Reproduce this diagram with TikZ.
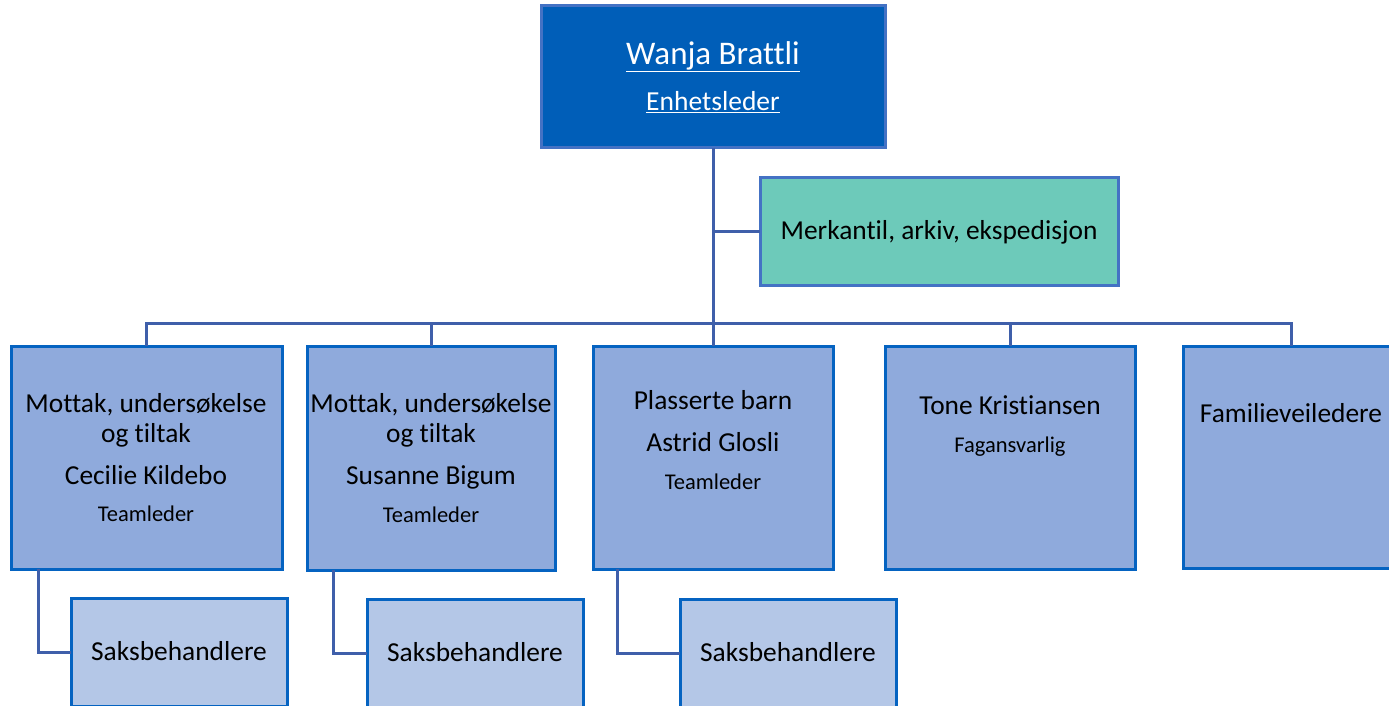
\documentclass[tikz,border=0pt]{standalone}
\usepackage{fontspec}
\setmainfont{Carlito}[Ligatures=NoCommon]
\usetikzlibrary{calc}
\definecolor{topfill}{RGB}{0,94,184}
\definecolor{topedge}{RGB}{68,114,196}
\definecolor{greenfill}{RGB}{109,202,186}
\definecolor{midfill}{RGB}{143,170,220}
\definecolor{boxedge}{RGB}{5,99,193}
\definecolor{saksfill}{RGB}{180,199,231}
\definecolor{connline}{RGB}{63,95,170}
\tikzset{
  every node/.style={inner sep=0pt, outer sep=0pt},
  boxbase/.style={rectangle, anchor=north west, line width=3pt},
  topbox/.style={boxbase, fill=topfill, draw=topedge},
  greenbox/.style={boxbase, fill=greenfill, draw=topedge},
  midbox/.style={boxbase, fill=midfill, draw=boxedge},
  saksbox/.style={boxbase, fill=saksfill, draw=boxedge},
  conn/.style={draw=connline, line width=3pt},
  big/.style={anchor=mid, font=\fontsize{27.4}{32}\selectfont},
  small/.style={anchor=mid, font=\fontsize{22.5}{26}\selectfont},
  toptxt/.style={anchor=mid, text=white, font=\fontsize{33}{38}\selectfont},
  topsub/.style={anchor=mid, text=white, font=\fontsize{27.5}{32}\selectfont},
}
\begin{document}
\begin{tikzpicture}[x=1pt,y=-1pt]
\useasboundingbox (0,0) rectangle (1389,706);
% boxes
\node[topbox, minimum width=344pt, minimum height=142pt] (top) at (541,6) {};
\node[greenbox, minimum width=358pt, minimum height=108pt] (grn) at (760,177) {};
\node[midbox, minimum width=271pt, minimum height=223pt] (b1) at (11,346) {};
\node[midbox, minimum width=248pt, minimum height=224pt] (b2) at (307,346) {};
\node[midbox, minimum width=240pt, minimum height=223pt] (b3) at (593,346) {};
\node[midbox, minimum width=250pt, minimum height=223pt] (b4) at (885,346) {};
\node[midbox, minimum width=216pt, minimum height=222pt] (b5) at (1183,346) {};
\node[saksbox, minimum width=216pt, minimum height=108pt] (s1) at (71,598) {};
\node[saksbox, minimum width=216pt, minimum height=108pt] (s2) at (367,599) {};
\node[saksbox, minimum width=216pt, minimum height=108pt] (s3) at (680,599) {};
% connectors
\coordinate (bus) at (0,323);
\draw[conn] (top.south) -- (b3.north);
\draw[conn] (grn.west -| top.south) -- (grn.west);
\draw[conn] (b1.north) |- (bus -| b5.north) -- (b5.north);
\draw[conn] (b2.north) -- (b2.north |- bus);
\draw[conn] (b4.north) -- (b4.north |- bus);
\draw[conn] ($(b1.south west)+(27,0)$) |- (s1.west);
\draw[conn] ($(b2.south west)+(26,0)$) |- (s2.west);
\draw[conn] ($(b3.south west)+(24,0)$) |- (s3.west);
% texts
\node[toptxt] (t1) at (713,62) {\underline{Wanja Brattli}};
\node[topsub] (t2) at (713,108) {\underline{Enhetsleder}};
\node[big] (g1) at (939,237) {Merkantil, arkiv, ekspedisjon};
\node[big] (a1) at (146,410) {Mottak, undersøkelse};
\node[big] (a2) at (146,440) {og tiltak};
\node[big] (a3) at (146,482) {Cecilie Kildebo};
\node[small] (a4) at (146,519) {Teamleder};
\node[big] (c1) at (431,410) {Mottak, undersøkelse};
\node[big] (c2) at (431,440) {og tiltak};
\node[big] (c3) at (431,482) {Susanne Bigum};
\node[small] (c4) at (431,520) {Teamleder};
\node[big] (d1) at (713,407) {Plasserte barn};
\node[big] (d2) at (713,449) {Astrid Glosli};
\node[small] (d3) at (713,487) {Teamleder};
\node[big] (e1) at (1010,412) {Tone Kristiansen};
\node[small] (e2) at (1010,450) {Fagansvarlig};
\node[big] (f1) at (1291,420) {Familieveiledere};
\node[big] (s1t) at (179,658) {Saksbehandlere};
\node[big] (s2t) at (475,659) {Saksbehandlere};
\node[big] (s3t) at (788,659) {Saksbehandlere};
\end{tikzpicture}
\end{document}
